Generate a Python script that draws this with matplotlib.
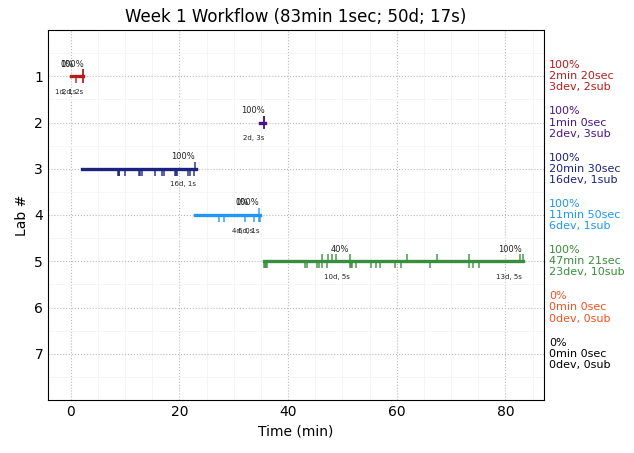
import matplotlib
matplotlib.use('Agg')
import matplotlib.pyplot as plt
from matplotlib.ticker import MultipleLocator

labs = [1, 2, 3, 4, 5, 6, 7]
colors = ['#b71c1c', '#4a148c', '#1a237e', '#2196f3', '#388e3c', '#f4511e', '#000000']

# start / end of each lab's work (min)
starts = [0.0, 34.8, 2.1, 22.8, 35.6]
ends = [2.33, 35.8, 23.0, 34.9, 83.3]

# dev events drawn under the line, submissions above it
devs = [
    [0.9, 2.25, 2.3],
    [35.55, 35.65],
    [8.72, 8.8, 8.96, 10.0, 12.6, 12.8, 13.1, 15.5, 16.8, 17.1, 19.2, 19.4, 19.6, 21.5, 21.9, 22.7],
    [27.3, 28.2, 32.1, 33.75, 34.7, 34.75],
    [35.6, 35.75, 35.9, 36.1, 43.1, 43.5, 45.3, 45.7, 46.2, 47.1, 51.4, 51.5, 51.8, 52.5,
     55.3, 56.2, 57.0, 59.7, 60.8, 66.1, 73.3, 74.1, 75.2],
]
subs = [
    [2.2, 2.3],
    [35.55, 35.6, 35.65],
    [22.9],
    [34.7],
    [46.2, 47.4, 48.1, 48.8, 51.4, 61.9, 67.4, 73.3, 82.6, 83.2],
]

# small labels: (lab, x, text)
top_labels = [(1, -0.6, '0%'), (1, 0.3, '100%'), (2, 33.6, '100%'), (3, 20.7, '100%'),
              (4, 31.6, '0%'), (4, 32.5, '100%'), (5, 49.5, '40%'), (5, 80.9, '100%')]
bottom_labels = [(1, -0.9, '1d, 1s'), (1, 0.37, '2d, 2s'), (2, 33.6, '2d, 3s'), (3, 20.6, '16d, 1s'),
                 (4, 31.6, '4d, 0s'), (4, 32.7, '6d, 1s'), (5, 49.0, '10d, 5s'), (5, 80.7, '13d, 5s')]

side_text = [
    '100%\n2min 20sec\n3dev, 2sub',
    '100%\n1min 0sec\n2dev, 3sub',
    '100%\n20min 30sec\n16dev, 1sub',
    '100%\n11min 50sec\n6dev, 1sub',
    '100%\n47min 21sec\n23dev, 10sub',
    '0%\n0min 0sec\n0dev, 0sub',
    '0%\n0min 0sec\n0dev, 0sub',
]

fig = plt.figure(figsize=(6.34, 4.53), dpi=100)
ax = fig.add_axes([48 / 634, 1 - 400 / 453, 496 / 634, 370 / 453])

for i in range(len(starts)):
    y = labs[i]
    ax.plot([starts[i], ends[i]], [y, y], color=colors[i], lw=2.4, zorder=3)
    ax.vlines(devs[i], y, y + 0.15, color=colors[i], lw=1.1, alpha=0.9, zorder=3)
    ax.vlines(subs[i], y - 0.15, y, color=colors[i], lw=1.1, alpha=0.9, zorder=3)

for lab, x, s in top_labels:
    ax.text(x, lab - 0.26, s, fontsize=6, ha='center', va='center', color='#222222')
for lab, x, s in bottom_labels:
    ax.text(x, lab + 0.34, s, fontsize=5, ha='center', va='center', color='#222222')

for lab, s, c in zip(labs, side_text, colors):
    ax.text(88.0, lab, s, fontsize=8, color=c, ha='left', va='center', clip_on=False, linespacing=1.15)

ax.set_xlim(-4.2, 87.1)
ax.set_ylim(8, 0)
ax.set_yticks(labs)
ax.xaxis.set_major_locator(MultipleLocator(20))
ax.xaxis.set_minor_locator(MultipleLocator(5))
ax.yaxis.set_minor_locator(MultipleLocator(0.5))
ax.grid(which='major', color='#bbbbbb', ls=':', lw=0.8)
ax.grid(which='minor', color='#f5f5f5', ls='-', lw=0.7)
ax.set_axisbelow(True)
ax.tick_params(which='both', length=0, labelsize=10)
ax.set_xlabel('Time (min)', fontsize=10)
ax.set_ylabel('Lab #', fontsize=10)
ax.set_title('Week 1 Workflow (83min 1sec; 50d; 17s)', fontsize=12)

fig.savefig('out.png', dpi=100)
